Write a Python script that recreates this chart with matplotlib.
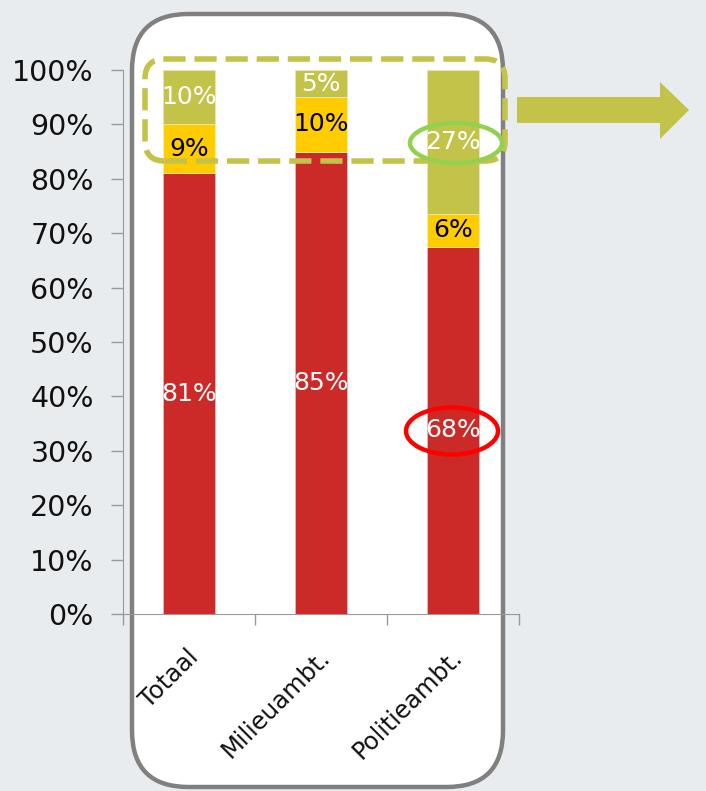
import matplotlib
matplotlib.use("Agg")
import matplotlib.pyplot as plt
from matplotlib.patches import FancyBboxPatch, Ellipse, Polygon
from matplotlib.ticker import FuncFormatter
import matplotlib.transforms as mtransforms
import numpy as np

categories = ["Totaal", "Milieuambt.", "Politieambt."]
red_vals = [81.0, 85.0, 67.5]
yellow_vals = [9.0, 10.0, 6.0]
olive_vals = [10.0, 5.0, 26.5]
red_labels = ["81%", "85%", "68%"]
yellow_labels = ["9%", "10%", "6%"]
olive_labels = ["10%", "5%", "27%"]
yticks = [0, 10, 20, 30, 40, 50, 60, 70, 80, 90, 100]

RED = "#cc2929"
YEL = "#ffcc00"
OLV = "#c3c34a"
BG = "#e8ecee"

W, H = 706, 791
fig = plt.figure(figsize=(W / 100, H / 100), dpi=100, facecolor=BG)

def fx(px):
    return px / W

def fy(py):
    return 1 - py / H

# rounded white panel
panel = FancyBboxPatch((fx(132), fy(787)), fx(503) - fx(132), fy(14) - fy(787),
                       boxstyle="round,pad=0,rounding_size=0.08",
                       transform=fig.transFigure, facecolor="white",
                       edgecolor="#808080", linewidth=3.2, zorder=-1,
                       mutation_aspect=W / H)
fig.patches.append(panel)

ax = fig.add_axes([fx(123), fy(614), fx(519) - fx(123), fy(70) - fy(614)])
ax.set_facecolor("none")
ax.set_zorder(1)
x = np.arange(len(categories))
w = 0.4
red_a = np.array(red_vals)
yel_a = np.array(yellow_vals)
olv_a = np.array(olive_vals)
ax.bar(x, red_a, w, color=RED, edgecolor="#f0b0b0", linewidth=0.6, zorder=2)
ax.bar(x, yel_a, w, bottom=red_a, color=YEL, edgecolor="#fff0a0", linewidth=0.6, zorder=2)
top = np.minimum(olv_a, 100 - red_a - yel_a)
ax.bar(x, top, w, bottom=red_a + yel_a, color=OLV, edgecolor="#e8e8b0", linewidth=0.6, zorder=2)

fs_lab = 18
for i in range(len(categories)):
    ax.text(x[i], red_a[i] / 2, red_labels[i], ha="center", va="center",
            color="white", fontsize=fs_lab, zorder=5)
    ax.text(x[i], red_a[i] + yel_a[i] / 2, yellow_labels[i], ha="center", va="center",
            color="black", fontsize=fs_lab, zorder=5)
    ax.text(x[i], red_a[i] + yel_a[i] + top[i] / 2, olive_labels[i], ha="center", va="center",
            color="white", fontsize=fs_lab, zorder=5)

ax.set_xlim(-0.5, len(categories) - 0.5)
ax.set_ylim(0, 100)
ax.set_yticks(yticks)
ax.yaxis.set_major_formatter(FuncFormatter(lambda v, p: f"{int(v)}%"))
ax.tick_params(axis="y", labelsize=20.5, colors="#999999", labelcolor="#111111",
               length=9, width=1, pad=12)
ax.set_xticks(x)
ax.set_xticklabels(categories, rotation=45, ha="right", va="top",
                   rotation_mode="anchor", fontsize=17.5, color="#111111")
ax.tick_params(axis="x", which="major", length=0, pad=22)
ax.set_xticks(np.arange(-0.5, len(categories)), minor=True)
ax.tick_params(axis="x", which="minor", length=8, width=1, colors="#999999")
off = mtransforms.ScaledTranslation(-3 / 100, 0, fig.dpi_scale_trans)
for lab in ax.get_xticklabels():
    lab.set_transform(lab.get_transform() + off)
for s in ["top", "right"]:
    ax.spines[s].set_visible(False)
ax.spines["left"].set_color("#999999")
ax.spines["bottom"].set_color("#999999")

# dashed highlight box
dbox = FancyBboxPatch((fx(145), fy(161)), fx(505) - fx(145), fy(59) - fy(161),
                      boxstyle="round,pad=0,rounding_size=0.028",
                      transform=fig.transFigure, facecolor="none",
                      edgecolor=OLV, linewidth=4, linestyle=(0, (4, 1.6)),
                      zorder=10, mutation_aspect=W / H)
fig.patches.append(dbox)

# ellipses
fig.patches.append(Ellipse((fx(456), fy(143)), fx(92), 40 / H, transform=fig.transFigure,
                           facecolor="none", edgecolor="#92d050", linewidth=3.2, zorder=11))
fig.patches.append(Ellipse((fx(452), fy(431)), fx(92), 47 / H, transform=fig.transFigure,
                           facecolor="none", edgecolor="#ff0000", linewidth=3.2, zorder=11))

# arrow
pts = [(517, 97), (660, 97), (660, 82), (689, 110), (660, 139), (660, 123), (517, 123)]
fig.patches.append(Polygon([(fx(a), fy(b)) for a, b in pts], closed=True,
                           transform=fig.transFigure, facecolor=OLV, edgecolor="none", zorder=5))

fig.savefig("out.png", dpi=100, facecolor=BG)
